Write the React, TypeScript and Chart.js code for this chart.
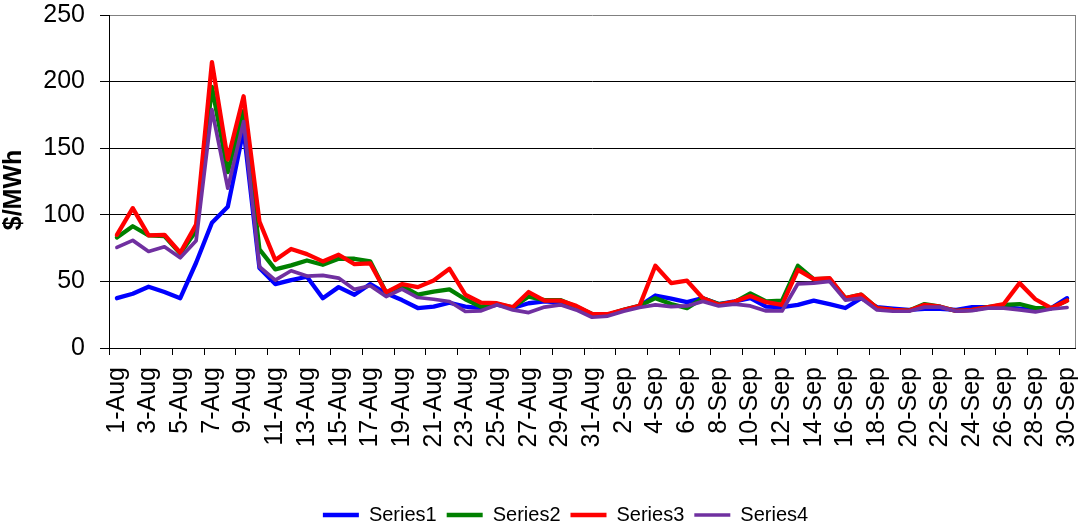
import React, { useEffect, useRef } from 'react';
import { Chart, registerables } from 'chart.js';

Chart.register(...registerables);

const categories = [
  '1-Aug', '2-Aug', '3-Aug', '4-Aug', '5-Aug', '6-Aug', '7-Aug', '8-Aug', '9-Aug', '10-Aug',
  '11-Aug', '12-Aug', '13-Aug', '14-Aug', '15-Aug', '16-Aug', '17-Aug', '18-Aug', '19-Aug', '20-Aug',
  '21-Aug', '22-Aug', '23-Aug', '24-Aug', '25-Aug', '26-Aug', '27-Aug', '28-Aug', '29-Aug', '30-Aug',
  '31-Aug', '1-Sep', '2-Sep', '3-Sep', '4-Sep', '5-Sep', '6-Sep', '7-Sep', '8-Sep', '9-Sep',
  '10-Sep', '11-Sep', '12-Sep', '13-Sep', '14-Sep', '15-Sep', '16-Sep', '17-Sep', '18-Sep', '19-Sep',
  '20-Sep', '21-Sep', '22-Sep', '23-Sep', '24-Sep', '25-Sep', '26-Sep', '27-Sep', '28-Sep', '29-Sep',
  '30-Sep',
];

const series1 = [
  37.4, 40.7, 46, 42, 37.4, 64, 94, 106, 164, 60,
  48, 51, 53.5, 37.4, 45.7, 40, 48, 41, 36, 30,
  31, 34, 31, 30, 32.5, 30, 33.6, 35, 34, 31,
  25, 25, 28.5, 31.5, 39.4, 37, 34.4, 37.4, 33, 35,
  37.4, 31, 30.7, 32.4, 35.6, 33, 30, 37.4, 30.7, 29.6,
  28.6, 29.3, 29.3, 28.6, 30.7, 30.7, 30.7, 29.6, 28.6, 29.9,
  37.4,
];

const series2 = [
  83, 91.4, 84.6, 84, 71, 88, 196, 132, 178, 74,
  59, 62, 65.7, 62.5, 67, 67, 65, 41.7, 46.7, 40,
  42.4, 44, 36.6, 31, 33, 30.6, 38.6, 36, 36, 31,
  25.6, 25, 28.6, 31.6, 37.4, 33, 29.9, 37.4, 33, 34.4,
  41, 35, 35.5, 61.7, 51.7, 52, 37.4, 40, 29.9, 28.6,
  28, 33, 31, 27.8, 28.6, 30.7, 32.4, 33, 29.9, 29.9,
  35.6,
];

const series3 = [
  85, 105, 84.6, 85, 71.5, 92.6, 214.6, 141.5, 189, 95,
  66, 74.3, 70.5, 65, 70, 63, 63.5, 41.7, 48, 45.7,
  50.7, 59.5, 40, 34, 33.6, 30.6, 42, 35.6, 35.6, 31.6,
  25.6, 25.4, 28.6, 31.6, 61.7, 48.7, 50.5, 37.4, 32.4, 34.9,
  39, 34.4, 32.4, 58.7, 51.7, 52.4, 37.4, 40, 29.9, 28.6,
  28, 32.4, 31, 27.8, 28.6, 30.7, 33, 48.7, 36.6, 29.9,
  35.6,
];

const series4 = [
  75.5, 80.8, 72.5, 76, 67.7, 80.5, 179, 120, 170, 61,
  51, 58, 54, 54.5, 52.5, 44, 46.7, 38.6, 44.2, 37.9,
  36.6, 34.9, 27.4, 27.9, 32.5, 28.6, 26.6, 30.7, 32.4, 28.6,
  23.1, 24, 27.6, 30.4, 32.4, 31, 31.6, 35, 31.6, 33,
  31.6, 27.8, 27.8, 48.2, 48.7, 50, 36, 37.4, 28.6, 27.6,
  27.6, 30.7, 30.7, 27.6, 28, 29.9, 29.9, 28.6, 27.1, 29.3,
  30.4,
];

const seriesNames = ['Series1', 'Series2', 'Series3', 'Series4'];
const seriesColors = ['#0000FF', '#008000', '#FF0000', '#7030A0'];
const seriesWidths = [4.3, 4.3, 4.3, 3.7];
const seriesValues = [series1, series2, series3, series4];

const yMin = 0;
const yMax = 250;
const yStep = 50;
const yTitle = '$/MWh';

const FONT = 'Arial, "Liberation Sans", sans-serif';

export default function App() {
  const canvasRef = useRef<HTMLCanvasElement | null>(null);

  useEffect(() => {
    document.body.style.margin = '0';
    const canvas = canvasRef.current;
    if (!canvas) return;

    const legendShift = {
      id: 'legendShift',
      afterLayout(chart: any) {
        const l = chart.legend;
        if (l) {
          l.left += 28;
          l.right += 28;
          l.top += 8;
          l.bottom += 8;
        }
      },
    };

    const yTitlePlugin = {
      id: 'yTitlePlugin',
      afterDraw(chart: any) {
        const ctx = chart.ctx;
        ctx.save();
        ctx.translate(14, 190);
        ctx.rotate(-Math.PI / 2);
        ctx.textAlign = 'center';
        ctx.textBaseline = 'middle';
        ctx.fillStyle = '#000';
        ctx.font = `bold 25px ${FONT}`;
        ctx.fillText(yTitle, 0, 0);
        ctx.restore();
      },
    };

    const chart = new Chart(canvas, {
      type: 'line',
      data: {
        labels: categories,
        datasets: seriesValues.map((vals, i) => ({
          label: seriesNames[i],
          data: vals,
          borderColor: seriesColors[i],
          backgroundColor: seriesColors[i],
          borderWidth: seriesWidths[i],
          pointRadius: 0,
          pointHoverRadius: 0,
          tension: 0,
          fill: false,
          borderCapStyle: 'round',
          borderJoinStyle: 'round',
          order: 4 - i,
        })),
      },
      options: {
        animation: false,
        responsive: false,
        events: [],
        layout: { padding: { top: 15, right: 3, left: 0, bottom: 0 } },
        plugins: {
          tooltip: { enabled: false },
          legend: {
            display: true,
            position: 'bottom',
            labels: {
              usePointStyle: true,
              pointStyle: 'line',
              pointStyleWidth: 36,
              padding: 10,
              color: '#000',
              font: { family: FONT, size: 20 },
              sort: (a: any, b: any) => a.datasetIndex - b.datasetIndex,
            },
          },
        },
        scales: {
          x: {
            type: 'category',
            offset: true,
            grid: {
              offset: true,
              drawOnChartArea: true,
              drawTicks: true,
              tickLength: 7,
              color: (c: any) => (c.type === 'scale' ? '#808080' : 'rgba(0,0,0,0)'),
              tickColor: (c: any) =>
                c.type !== 'scale' && c.index % 2 === 0 ? '#000' : 'rgba(0,0,0,0)',
              lineWidth: 1,
            },
            border: { color: '#000', width: 1 },
            ticks: {
              autoSkip: false,
              maxRotation: 90,
              minRotation: 90,
              padding: 12,
              color: '#000',
              font: { family: FONT, size: 25 },
              callback: (_v: any, i: number) => (i % 2 === 0 ? categories[i] : ''),
            },
            afterFit: (s: any) => {
              s.height = 139;
              s.paddingLeft = 0;
              s.paddingRight = 0;
            },
          },
          y: {
            min: yMin,
            max: yMax,
            grid: {
              color: (c: any) => (c.tick && c.tick.value === yMax ? '#808080' : '#000'),
              tickColor: '#000',
              tickLength: 9,
              lineWidth: 1,
            },
            border: { color: '#000', width: 1 },
            ticks: {
              stepSize: yStep,
              padding: 15,
              color: '#000',
              font: { family: FONT, size: 25 },
            },
            title: { display: false },
            afterFit: (s: any) => {
              s.width = 109;
              s.paddingTop = 0;
              s.paddingBottom = 0;
            },
          },
        },
      },
      plugins: [legendShift, yTitlePlugin],
    } as any);

    return () => {
      chart.destroy();
    };
  }, []);

  return (
    <div style={{ width: 1078, height: 527 }}>
      <canvas ref={canvasRef} width={1078} height={527} style={{ display: 'block' }} />
    </div>
  );
}
